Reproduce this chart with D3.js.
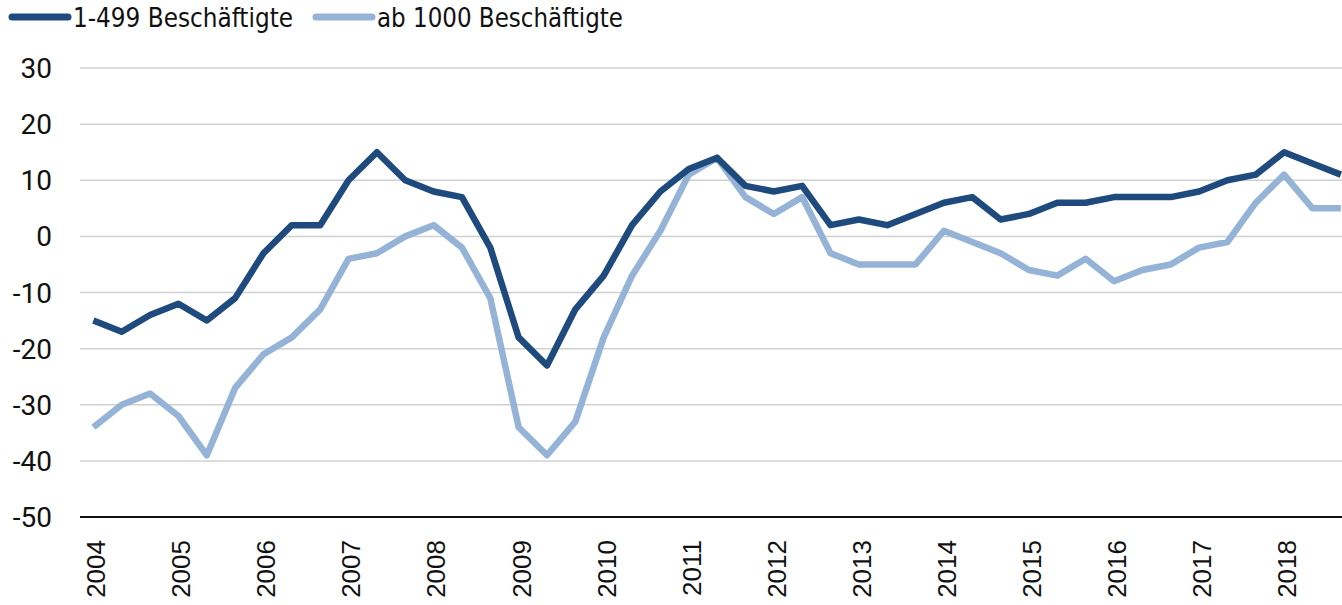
<!DOCTYPE html>
<html>
<head>
<meta charset="utf-8">
<script src="https://cdn.jsdelivr.net/npm/d3@7"></script>
<style>
  body { margin: 0; background: #fff; }
  svg { display: block; }
</style>
</head>
<body>
<div id="chart"></div>
<script>
// Data: three observations per year, 2004 - 2018
var years = ["2004", "2005", "2006", "2007", "2008", "2009", "2010", "2011",
  "2012", "2013", "2014", "2015", "2016", "2017", "2018"];

var small = [-15, -17, -14, -12, -15, -11, -3, 2, 2, 10, 15, 10, 8, 7, -2,
  -18, -23, -13, -7, 2, 8, 12, 14, 9, 8, 9, 2, 3, 2, 4, 6, 7, 3, 4, 6, 6,
  7, 7, 7, 8, 10, 11, 15, 13, 11];

var large = [-34, -30, -28, -32, -39, -27, -21, -18, -13, -4, -3, 0, 2, -2, -11,
  -34, -39, -33, -18, -7, 1, 11, 14, 7, 4, 7, -3, -5, -5, -5, 1, -1, -3, -6, -7, -4,
  -8, -6, -5, -2, -1, 6, 11, 5, 5];

var yTicks = [30, 20, 10, 0, -10, -20, -30, -40, -50];

var seriesNames = ["1-499 Beschäftigte", "ab 1000 Beschäftigte"];
var colors = ["#1f4a7e", "#95b3d7"];

var width = 1342, height = 605;

var svg = d3.select("#chart")
  .append("svg")
  .attr("width", width)
  .attr("height", height);

// Scales
var x = d3.scaleLinear()
  .domain([-0.5, small.length - 0.5])
  .range([79.2, 1355]);

var y = d3.scaleLinear()
  .domain([-50, 30])
  .range([517, 68]);

// Gridlines
svg.append("g")
  .selectAll("line")
  .data(yTicks.filter(function (d) { return d !== -50; }))
  .enter().append("line")
  .attr("x1", 80)
  .attr("x2", width)
  .attr("y1", function (d) { return y(d); })
  .attr("y2", function (d) { return y(d); })
  .attr("stroke", "#d0d0d0")
  .attr("stroke-width", 1.5);

// Y axis labels
svg.append("g")
  .selectAll("text")
  .data(yTicks)
  .enter().append("text")
  .attr("x", 52)
  .attr("y", function (d) { return y(d); })
  .attr("dy", "0.36em")
  .attr("text-anchor", "end")
  .style("font-family", "Roboto, 'Noto Sans', sans-serif")
  .style("font-size", "28px")
  .style("fill", "#111")
  .text(function (d) { return d < 0 ? "-" + Math.abs(d) : d; });

// Lines
var line = d3.line()
  .x(function (d, i) { return x(i); })
  .y(function (d) { return y(d); });

[large, small].forEach(function (data, k) {
  svg.append("path")
    .datum(data)
    .attr("fill", "none")
    .attr("stroke", k === 0 ? colors[1] : colors[0])
    .attr("stroke-width", 6.5)
    .attr("stroke-linejoin", "round")
    .attr("d", line);
});

// X axis line
svg.append("line")
  .attr("x1", 80)
  .attr("x2", width)
  .attr("y1", y(-50))
  .attr("y2", y(-50))
  .attr("stroke", "#111")
  .attr("stroke-width", 2);

// Year labels (rotated)
svg.append("g")
  .selectAll("text")
  .data(years)
  .enter().append("text")
  .attr("transform", function (d, i) {
    return "translate(" + (x(i * 3) + 2.5) + ",540) rotate(-90)";
  })
  .attr("dy", "0.36em")
  .attr("text-anchor", "end")
  .style("font-family", "'Liberation Sans', Arial, sans-serif")
  .style("font-size", "26px")
  .style("fill", "#111")
  .text(function (d) { return d; });

// Legend
var legendX = [12, 316];
var legendTextLen = [220, 246];
var legend = svg.append("g");
seriesNames.forEach(function (name, i) {
  legend.append("line")
    .attr("x1", legendX[i])
    .attr("x2", legendX[i] + 56)
    .attr("y1", 17)
    .attr("y2", 17)
    .attr("stroke", colors[i])
    .attr("stroke-width", 7)
    .attr("stroke-linecap", "round");
  legend.append("text")
    .attr("x", legendX[i] + 61)
    .attr("y", 17)
    .attr("dy", "0.36em")
    .attr("textLength", legendTextLen[i])
    .attr("lengthAdjust", "spacingAndGlyphs")
    .style("font-family", "'Liberation Sans Narrow', 'DejaVu Sans Condensed', sans-serif")
    .style("font-size", "27px")
    .style("fill", "#111")
    .text(name);
});
</script>
</body>
</html>
